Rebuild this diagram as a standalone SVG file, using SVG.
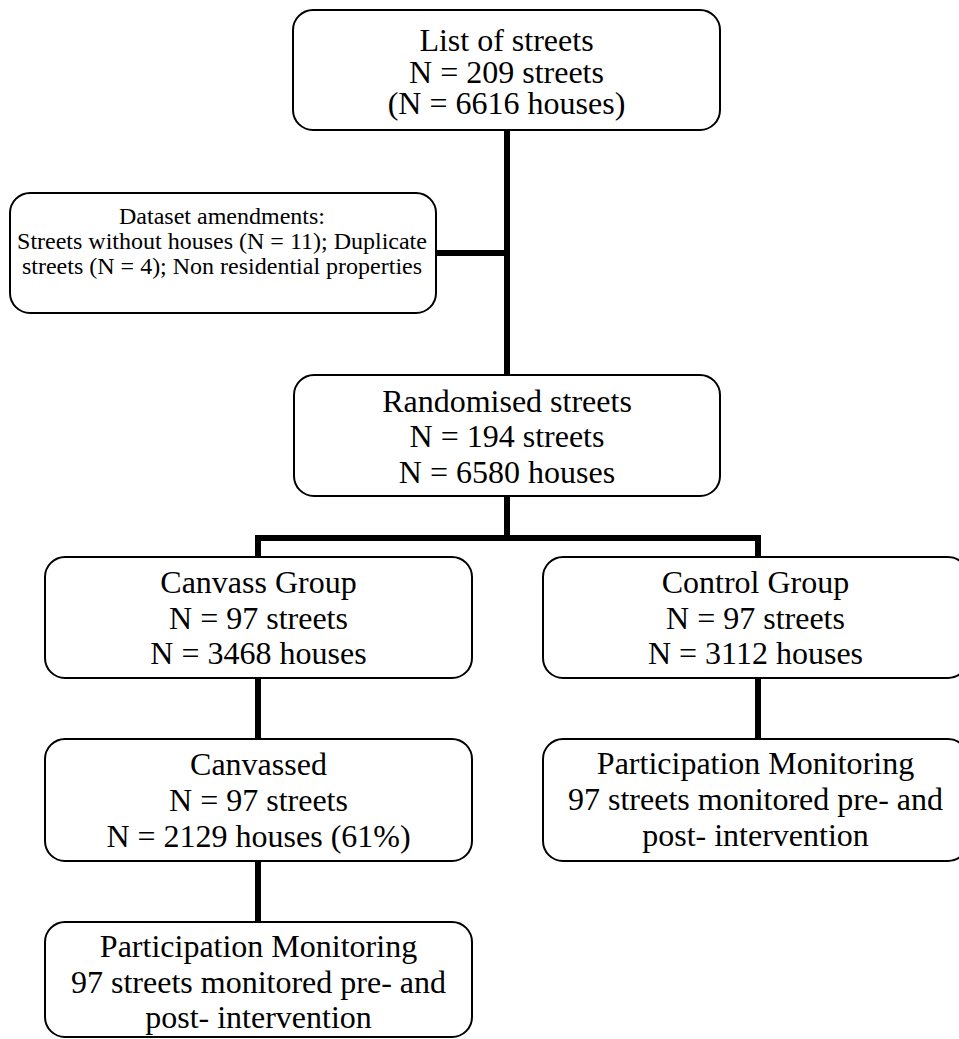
<svg xmlns="http://www.w3.org/2000/svg" width="959" height="1039" viewBox="0 0 959 1039">
<style>
.box{fill:#fff;stroke:#000;stroke-width:2}
text{font-family:'Liberation Serif','Tinos','DejaVu Serif',serif;font-size:32px;fill:#000;text-anchor:middle}
.s{font-size:24px}
.c{fill:none;stroke:#000;stroke-width:6;stroke-linejoin:miter;stroke-linecap:butt}
</style>
<rect width="959" height="1039" fill="#fff"/>
<g id="connectors">
<line class="c" x1="507" y1="129" x2="507" y2="376"/>
<line class="c" x1="436" y1="253" x2="507" y2="253"/>
<line class="c" x1="507" y1="495" x2="507" y2="538"/>
<polyline class="c" points="258,558 258,538 758,538 758,558"/>
<line class="c" x1="258" y1="677" x2="258" y2="740"/>
<line class="c" x1="258" y1="860" x2="258" y2="923"/>
<line class="c" x1="758" y1="677" x2="758" y2="740"/>
</g>
<g id="list">
<rect class="box" x="293" y="10" width="427" height="120" rx="20"/>
<text x="506.5" y="51">List of streets</text>
<text x="506.5" y="82.5">N = 209 streets</text>
<text x="506.5" y="114">(N = 6616 houses)</text>
</g>
<g id="amend">
<rect class="box" x="10" y="193" width="426" height="120" rx="20"/>
<text class="s" x="222" y="224">Dataset amendments:</text>
<text class="s" x="222" y="249">Streets without houses (N = 11); Duplicate</text>
<text class="s" x="222" y="274">streets (N = 4); Non residential properties</text>
</g>
<g id="random">
<rect class="box" x="294" y="375" width="426" height="121" rx="20"/>
<text x="507" y="412">Randomised streets</text>
<text x="507" y="447">N = 194 streets</text>
<text x="507" y="483">N = 6580 houses</text>
</g>
<g id="canvass">
<rect class="box" x="45" y="557" width="427" height="121" rx="20"/>
<text x="258.5" y="593">Canvass Group</text>
<text x="258.5" y="628.5">N = 97 streets</text>
<text x="258.5" y="664">N = 3468 houses</text>
</g>
<g id="control">
<rect class="box" x="543" y="557" width="425" height="121" rx="20"/>
<text x="755.5" y="593">Control Group</text>
<text x="755.5" y="628.5">N = 97 streets</text>
<text x="755.5" y="664">N = 3112 houses</text>
</g>
<g id="canvassed">
<rect class="box" x="45" y="739" width="427" height="122" rx="20"/>
<text x="258.5" y="775">Canvassed</text>
<text x="258.5" y="811">N = 97 streets</text>
<text x="258.5" y="847">N = 2129 houses (61%)</text>
</g>
<g id="monitor-left">
<rect class="box" x="45" y="922" width="427" height="115" rx="20"/>
<text x="258.5" y="957">Participation Monitoring</text>
<text x="258.5" y="992.5">97 streets monitored pre- and</text>
<text x="258.5" y="1028">post- intervention</text>
</g>
<g id="monitor-right">
<rect class="box" x="543" y="739" width="425" height="122" rx="20"/>
<text x="755.5" y="774">Participation Monitoring</text>
<text x="755.5" y="810">97 streets monitored pre- and</text>
<text x="755.5" y="846">post- intervention</text>
</g>
</svg>
